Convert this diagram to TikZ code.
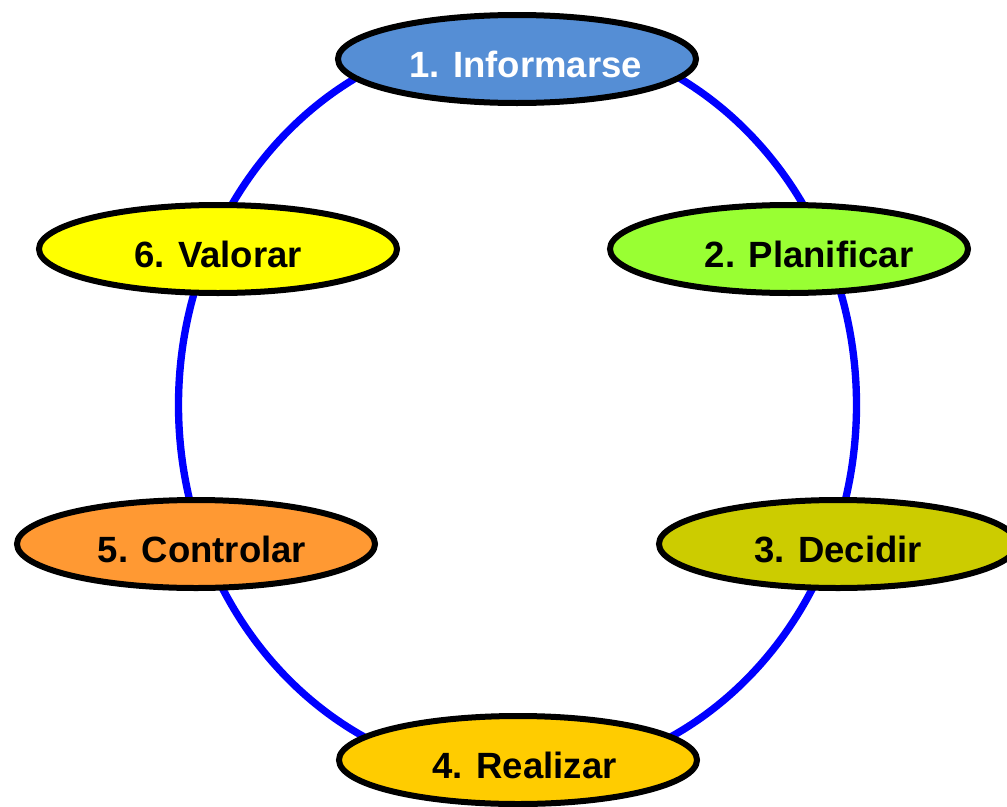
\documentclass[tikz,border=0pt]{standalone}
\usepackage{fontspec}
\setmainfont{Liberation Sans}
\usetikzlibrary{shapes.geometric}
\definecolor{azulfase}{HTML}{558ED5}
\definecolor{verdefase}{HTML}{99FF33}
\definecolor{olivafase}{HTML}{CCCC00}
\definecolor{orofase}{HTML}{FFCC00}
\definecolor{naranjafase}{HTML}{FF9933}
\definecolor{amarillofase}{HTML}{FFFF00}
\tikzset{
  fase/.style={ellipse, draw=black, line width=4.5pt, inner sep=0pt,
    minimum width=268.5pt, minimum height=66pt, text height=27pt, text depth=0pt,
    font=\fontsize{27.4}{32}\selectfont\bfseries},
  anillo/.style={draw=blue, line width=5.5pt}
}
\newcommand{\corre}[1]{\hspace*{#1pt}}

\begin{document}
\begin{tikzpicture}[x=0.75pt,y=-0.75pt]
      \useasboundingbox (0,0) rectangle (1007,807);
      \coordinate (centro) at (517.5,405);
      \draw[anillo] (centro) ellipse [x radius=339, y radius=372];

      \node[fase, fill=azulfase, text=white] (informarse) at (517,59) {\corre{13}1. Informarse};
      \node[fase, fill=verdefase] (planificar) at (789,249) {\corre{30}2. Planificar};
      \node[fase, fill=olivafase] (decidir) at (838,544) {3. Decidir};
      \node[fase, fill=orofase] (realizar) at (518,760) {\corre{10}4. Realizar};
      \node[fase, fill=naranjafase] (controlar) at (196,544) {\corre{9}5. Controlar};
      \node[fase, fill=amarillofase] (valorar) at (218,249) {6. Valorar};
    \end{tikzpicture}
\end{document}
